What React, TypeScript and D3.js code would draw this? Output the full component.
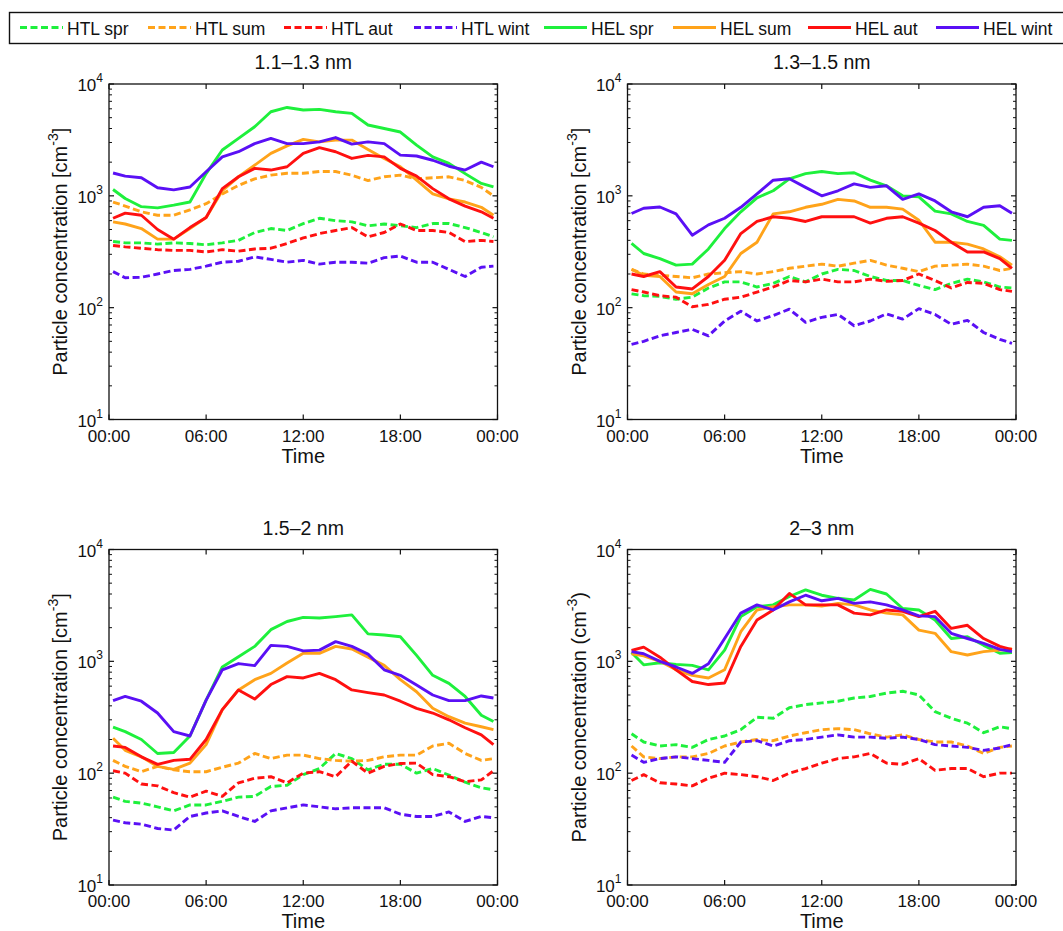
import React from "react";
import * as d3 from "d3";

// ---------- data ----------
const HOURS = [0.25, 1, 2, 3, 4, 5, 6, 7, 8, 9, 10, 11, 12, 13, 14, 15, 16, 17, 18, 19, 20, 21, 22, 23, 23.75];

const SERIES_NAMES = ["HTL spr", "HTL sum", "HTL aut", "HTL wint", "HEL spr", "HEL sum", "HEL aut", "HEL wint"];
const SERIES_COLORS = ["#1ef03c", "#ffa31a", "#ff1010", "#5a10f5", "#1ef03c", "#ffa31a", "#ff1010", "#5a10f5"];
const SERIES_DASHED = [true, true, true, true, false, false, false, false];

const PANEL_TITLES = ["1.1\u20131.3 nm", "1.3\u20131.5 nm", "1.5\u20132 nm", "2\u20133 nm"];
const PANEL_UNIT_BRACKETS = [["[", "]"], ["[", "]"], ["[", "]"], ["(", ")"]];

const X_TICKS = [0, 6, 12, 18, 24];
const X_TICK_LABELS = ["00:00", "06:00", "12:00", "18:00", "00:00"];
const Y_DECADES = [1, 2, 3, 4];

// Panel 1: 1.1–1.3 nm
const p1_HTL_spr = [390, 380, 380, 370, 380, 375, 365, 380, 400, 470, 510, 490, 565, 630, 600, 585, 540, 560, 540, 520, 565, 565, 520, 470, 430];
const p1_HTL_sum = [880, 810, 720, 670, 670, 750, 850, 1040, 1240, 1420, 1530, 1590, 1590, 1650, 1650, 1530, 1370, 1480, 1530, 1420, 1450, 1480, 1370, 1190, 1000];
const p1_HTL_aut = [360, 350, 340, 330, 325, 325, 315, 330, 320, 335, 340, 375, 420, 460, 490, 520, 430, 470, 560, 490, 490, 470, 390, 400, 390];
const p1_HTL_wint = [210, 185, 187, 200, 215, 220, 235, 255, 260, 285, 270, 255, 265, 245, 255, 255, 250, 280, 290, 255, 255, 220, 190, 230, 235];
const p1_HEL_spr = [1140, 946, 800, 780, 825, 880, 1580, 2570, 3260, 4150, 5650, 6170, 5850, 5930, 5650, 5460, 4300, 4000, 3720, 2840, 2230, 1950, 1580, 1290, 1200];
const p1_HEL_sum = [585, 560, 510, 410, 410, 510, 640, 1110, 1480, 1880, 2400, 2800, 3200, 3040, 3150, 3150, 2600, 2160, 1820, 1380, 1040, 940, 880, 790, 670];
const p1_HEL_aut = [630, 700, 670, 500, 410, 520, 640, 1160, 1480, 1760, 1700, 1820, 2400, 2700, 2480, 2160, 2300, 2230, 1760, 1500, 1160, 940, 810, 720, 630];
const p1_HEL_wint = [1600, 1500, 1450, 1180, 1130, 1200, 1640, 2230, 2480, 2930, 3260, 2930, 2930, 3040, 3320, 2900, 3040, 2930, 2310, 2270, 2080, 1840, 1700, 2000, 1820];

// Panel 2: 1.3–1.5 nm
const p2_HTL_spr = [133, 128, 126, 119, 124, 150, 170, 170, 153, 165, 190, 170, 200, 220, 215, 190, 175, 175, 158, 145, 165, 180, 170, 153, 150];
const p2_HTL_sum = [220, 200, 195, 190, 185, 200, 205, 210, 200, 210, 225, 235, 245, 235, 250, 265, 240, 225, 210, 235, 240, 245, 235, 215, 225];
const p2_HTL_aut = [145, 138, 128, 124, 102, 107, 119, 124, 138, 153, 175, 170, 180, 170, 170, 180, 172, 175, 200, 175, 150, 168, 165, 145, 140];
const p2_HTL_wint = [47, 50, 56, 60, 64, 56, 76, 93, 76, 85, 97, 74, 82, 87, 69, 76, 88, 79, 98, 87, 71, 77, 60, 52, 48];
const p2_HEL_spr = [375, 305, 275, 240, 245, 335, 510, 720, 960, 1110, 1420, 1580, 1650, 1580, 1610, 1380, 1230, 1000, 980, 730, 690, 590, 545, 410, 400];
const p2_HEL_sum = [220, 195, 190, 138, 133, 161, 190, 305, 385, 690, 720, 790, 840, 930, 900, 790, 790, 760, 605, 385, 385, 370, 335, 285, 240];
const p2_HEL_aut = [200, 190, 210, 153, 147, 190, 265, 460, 590, 650, 630, 590, 650, 650, 650, 570, 630, 650, 570, 490, 385, 315, 315, 275, 225];
const p2_HEL_wint = [695, 775, 795, 690, 445, 550, 630, 790, 1040, 1380, 1420, 1190, 1000, 1110, 1280, 1190, 1230, 930, 1040, 900, 720, 650, 790, 815, 700];

// Panel 3: 1.5–2 nm
const p3_HTL_spr = [61, 56, 54, 50, 46, 52, 52, 56, 61, 62, 76, 78, 97, 110, 150, 135, 107, 120, 120, 100, 110, 96, 83, 74, 71];
const p3_HTL_sum = [130, 115, 103, 115, 107, 103, 103, 113, 123, 150, 135, 145, 145, 135, 130, 128, 130, 140, 145, 145, 175, 185, 150, 130, 135];
const p3_HTL_aut = [105, 100, 80, 77, 67, 61, 69, 62, 82, 90, 93, 82, 100, 103, 93, 128, 100, 115, 122, 123, 97, 93, 84, 87, 105];
const p3_HTL_wint = [38, 36, 35, 32, 31, 41, 44, 46, 41, 37, 46, 49, 52, 50, 48, 49, 49, 49, 43, 41, 41, 45, 37, 41, 40];
const p3_HEL_spr = [258, 235, 200, 150, 153, 215, 450, 890, 1100, 1360, 1920, 2270, 2470, 2440, 2510, 2600, 1760, 1720, 1660, 1130, 750, 635, 485, 330, 290];
const p3_HEL_sum = [205, 160, 140, 115, 108, 123, 180, 370, 555, 685, 780, 965, 1180, 1180, 1360, 1290, 1090, 920, 685, 535, 380, 320, 280, 260, 245];
const p3_HEL_aut = [175, 170, 140, 120, 130, 133, 200, 370, 555, 460, 620, 730, 710, 780, 685, 555, 525, 500, 440, 380, 345, 300, 255, 220, 180];
const p3_HEL_wint = [445, 485, 440, 345, 235, 215, 450, 840, 955, 915, 1390, 1360, 1240, 1260, 1500, 1360, 1160, 840, 750, 615, 500, 445, 445, 490, 470];

// Panel 4: 2–3 nm
const p4_HTL_spr = [225, 190, 175, 180, 170, 200, 215, 245, 316, 310, 385, 410, 425, 440, 470, 485, 520, 540, 500, 355, 310, 280, 230, 260, 250];
const p4_HTL_sum = [175, 140, 135, 140, 140, 150, 175, 190, 200, 195, 215, 230, 245, 250, 245, 225, 210, 220, 200, 190, 190, 175, 150, 170, 175];
const p4_HTL_aut = [86, 97, 82, 80, 77, 90, 100, 97, 93, 86, 100, 110, 123, 135, 140, 150, 123, 120, 135, 106, 110, 110, 93, 100, 100];
const p4_HTL_wint = [145, 125, 135, 140, 135, 130, 125, 190, 195, 175, 195, 200, 210, 220, 210, 210, 205, 210, 200, 180, 175, 170, 160, 168, 180];
const p4_HEL_spr = [1200, 930, 970, 940, 920, 840, 1260, 2510, 3080, 3200, 3800, 4350, 3900, 3660, 3540, 4400, 4000, 2970, 2880, 2340, 1600, 1660, 1390, 1180, 1200];
const p4_HEL_sum = [1170, 1120, 1000, 840, 750, 710, 840, 1840, 2880, 3080, 3200, 3200, 3120, 3300, 3200, 2880, 2700, 2600, 1900, 1780, 1220, 1140, 1220, 1260, 1300];
const p4_HEL_aut = [1250, 1340, 1090, 840, 660, 620, 640, 1360, 2340, 2880, 4050, 3200, 3200, 3200, 2700, 2600, 2880, 2800, 2510, 2800, 1970, 2100, 1600, 1360, 1270];
const p4_HEL_wint = [1220, 1170, 1000, 890, 780, 950, 1600, 2700, 3200, 2880, 3400, 3900, 3480, 3660, 3300, 3400, 3200, 2880, 2550, 2510, 1780, 1600, 1450, 1280, 1220];

const PANEL_SERIES = [
  [p1_HTL_spr, p1_HTL_sum, p1_HTL_aut, p1_HTL_wint, p1_HEL_spr, p1_HEL_sum, p1_HEL_aut, p1_HEL_wint],
  [p2_HTL_spr, p2_HTL_sum, p2_HTL_aut, p2_HTL_wint, p2_HEL_spr, p2_HEL_sum, p2_HEL_aut, p2_HEL_wint],
  [p3_HTL_spr, p3_HTL_sum, p3_HTL_aut, p3_HTL_wint, p3_HEL_spr, p3_HEL_sum, p3_HEL_aut, p3_HEL_wint],
  [p4_HTL_spr, p4_HTL_sum, p4_HTL_aut, p4_HTL_wint, p4_HEL_spr, p4_HEL_sum, p4_HEL_aut, p4_HEL_wint],
];

// ---------- layout ----------
const W = 1063;
const H = 931;
const FONT = "'Liberation Sans', Arial, Helvetica, sans-serif";
const TEXT = "#111";
const PANEL_LEFTS = [109, 627.5, 109, 627.5];
const PANEL_TOPS = [84, 84, 549.5, 549.5];
const PW = 388.5;
const PH = 335.5;
const LEGEND_X = [20, 148, 284, 414, 544, 673, 808, 936];
const DASH = "7,3.5";

function Panel({ idx }: { idx: number }) {
  const left = PANEL_LEFTS[idx];
  const top = PANEL_TOPS[idx];
  const x = d3.scaleLinear().domain([0, 24]).range([left, left + PW]);
  const y = d3.scaleLog().domain([10, 10000]).range([top + PH, top]);
  const line = d3
    .line<number>()
    .x((_, i) => x(HOURS[i]))
    .y((d) => y(d))
    .curve(d3.curveLinear);

  const minors: number[] = [];
  for (let e = 1; e < 4; e++) for (let m = 2; m <= 9; m++) minors.push(m * Math.pow(10, e));

  const [lb, rb] = PANEL_UNIT_BRACKETS[idx];
  const cy = top + PH / 2;

  return (
    <g>
      {/* series */}
      {PANEL_SERIES[idx].map((vals, s) => (
        <path
          key={s}
          d={line(vals) || ""}
          fill="none"
          stroke={SERIES_COLORS[s]}
          strokeWidth={2.9}
          strokeDasharray={SERIES_DASHED[s] ? DASH : undefined}
          strokeLinejoin="round"
        />
      ))}
      {/* frame */}
      <rect x={left} y={top} width={PW} height={PH} fill="none" stroke="#111" strokeWidth={1.3} />
      {/* x ticks */}
      {X_TICKS.map((t, i) => (
        <g key={"xt" + i}>
          <line x1={x(t)} x2={x(t)} y1={top + PH} y2={top + PH - 5} stroke="#111" strokeWidth={1.2} />
          <line x1={x(t)} x2={x(t)} y1={top} y2={top + 5} stroke="#111" strokeWidth={1.2} />
          <text x={x(t)} y={top + PH + 22} textAnchor="middle" fontSize={17} fontFamily={FONT} fill={TEXT}>
            {X_TICK_LABELS[i]}
          </text>
        </g>
      ))}
      {/* y ticks */}
      {Y_DECADES.map((e) => {
        const yy = y(Math.pow(10, e));
        return (
          <g key={"yd" + e}>
            <line x1={left} x2={left + 5} y1={yy} y2={yy} stroke="#111" strokeWidth={1.2} />
            <line x1={left + PW} x2={left + PW - 5} y1={yy} y2={yy} stroke="#111" strokeWidth={1.2} />
            <text x={left - 6} y={yy + 7} textAnchor="end" fontSize={17} fontFamily={FONT} fill={TEXT}>
              10
              <tspan fontSize={12} dy={-9}>
                {String(e)}
              </tspan>
            </text>
          </g>
        );
      })}
      {minors.map((v, i) => (
        <g key={"ym" + i}>
          <line x1={left} x2={left + 3} y1={y(v)} y2={y(v)} stroke="#111" strokeWidth={1} />
          <line x1={left + PW} x2={left + PW - 3} y1={y(v)} y2={y(v)} stroke="#111" strokeWidth={1} />
        </g>
      ))}
      {/* title */}
      <text x={left + PW / 2} y={top - 15} textAnchor="middle" fontSize={19.5} fontFamily={FONT} fill={TEXT}>
        {PANEL_TITLES[idx]}
      </text>
      {/* axis labels */}
      <text x={left + PW / 2} y={top + PH + 43} textAnchor="middle" fontSize={20} fontFamily={FONT} fill={TEXT}>
        Time
      </text>
      <text
        transform={`translate(${left - 42},${cy}) rotate(-90)`}
        textAnchor="middle"
        fontSize={20}
        fontFamily={FONT}
        fill={TEXT}
      >
        {"Particle concentration " + lb + "cm"}
        <tspan fontSize={14} dy={-9}>
          -3
        </tspan>
        <tspan dy={9}>{rb}</tspan>
      </text>
    </g>
  );
}

function Legend() {
  const ly = 27.5;
  return (
    <g>
      <rect x={9.5} y={12.5} width={1070} height={31} fill="#fff" stroke="#111" strokeWidth={1.4} />
      {SERIES_NAMES.map((name, i) => (
        <g key={name}>
          <line
            x1={LEGEND_X[i]}
            x2={LEGEND_X[i] + 43}
            y1={ly}
            y2={ly}
            stroke={SERIES_COLORS[i]}
            strokeWidth={2.9}
            strokeDasharray={SERIES_DASHED[i] ? DASH : undefined}
          />
          <text x={LEGEND_X[i] + 47} y={ly + 7} fontSize={17.5} fontFamily={FONT} fill={TEXT}>
            {name}
          </text>
        </g>
      ))}
    </g>
  );
}

export default function App() {
  return (
    <svg
      width={W}
      height={H}
      viewBox={`0 0 ${W} ${H}`}
      style={{ position: "absolute", left: 0, top: 0, background: "#fff", display: "block" }}
    >
      <rect x={0} y={0} width={W} height={H} fill="#fff" />
      {[0, 1, 2, 3].map((i) => (
        <Panel key={i} idx={i} />
      ))}
      <Legend />
    </svg>
  );
}
